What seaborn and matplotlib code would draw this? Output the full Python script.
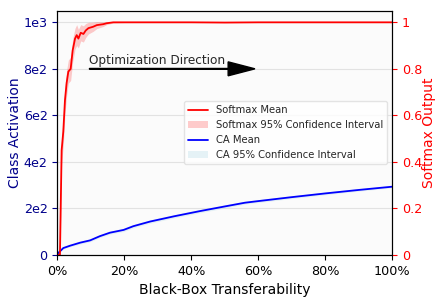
import numpy as np
import pandas as pd
import matplotlib
matplotlib.use("Agg")
import matplotlib.pyplot as plt
import seaborn as sns

# Black-box transferability (%) for the softmax curve
sm_x = [0, 0.8, 1.3, 1.8, 2.3, 2.8, 3.3, 4.0, 4.6, 5.3, 5.8, 6.3, 7.0, 7.8, 8.5, 9.3,
        10.7, 11.8, 13.7, 14.7, 16.7, 20, 30, 40, 50, 60, 70, 80, 90, 100]
sm_mean = [0.0, 0.0, 0.45, 0.53, 0.666, 0.74, 0.788, 0.80, 0.88, 0.93, 0.945, 0.93,
           0.955, 0.95, 0.965, 0.975, 0.981, 0.988, 0.992, 0.996, 1.0, 1.0, 1.0,
           1.0, 0.999, 1.0, 1.0, 1.0, 1.0, 1.0]
sm_half = [0.0, 0.0, 0.06, 0.06, 0.06, 0.055, 0.05, 0.05, 0.05, 0.045, 0.045, 0.04,
           0.035, 0.035, 0.03, 0.025, 0.02, 0.015, 0.01, 0.006, 0.003, 0.001, 0.0,
           0.0, 0.0, 0.0, 0.0, 0.0, 0.0, 0.0]

# class activation curve
ca_x = [0, 0.3, 1.8, 3.8, 6.8, 9.8, 12.7, 15.7, 19.8, 22.7, 27.7, 35, 42.6, 50,
        56, 60, 70, 80, 90, 100]
ca_mean = [0, 8, 29, 39, 52, 62, 80, 95, 107, 123, 143, 166, 188, 208,
           224, 231, 248, 264, 279, 293]
ca_half = [0, 2, 4, 5, 6, 6, 6, 6, 7, 7, 7, 7, 7, 7, 6, 6, 6, 6, 5, 5]

left_ticks = [0, 200, 400, 600, 800, 1000]
left_labels = ["0", "2e2", "4e2", "6e2", "8e2", "1e3"]
right_ticks = [0, 0.2, 0.4, 0.6, 0.8, 1.0]
right_labels = ["0", "0.2", "0.4", "0.6", "0.8", "1"]
x_ticks = [0, 20, 40, 60, 80, 100]
x_labels = ["0%", "20%", "40%", "60%", "80%", "100%"]

sm = pd.DataFrame({"x": sm_x, "mean": sm_mean, "half": sm_half})
ca = pd.DataFrame({"x": ca_x, "mean": ca_mean, "half": ca_half})

sns.set_style("ticks")
plt.rcParams["font.family"] = ["DejaVu Sans"]

fig = plt.figure(figsize=(4.44, 3.0), dpi=100)
ax = fig.add_axes([0.129, 0.1507, 0.7546, 0.8136])
ax.set_facecolor("#fbfbfb")
ax2 = ax.twinx()

# class activation on the left axis
sns.lineplot(data=ca, x="x", y="mean", ax=ax, color="blue", linewidth=1.3, label="CA Mean", legend=False)
ax.fill_between(ca["x"], ca["mean"] - ca["half"], ca["mean"] + ca["half"],
                color="lightblue", alpha=0.3, linewidth=0, label="CA 95% Confidence Interval")

# softmax on the right axis
sns.lineplot(data=sm, x="x", y="mean", ax=ax2, color="red", linewidth=1.3, label="Softmax Mean", legend=False)
ax2.fill_between(sm["x"], sm["mean"] - sm["half"], sm["mean"] + sm["half"],
                 color="red", alpha=0.2, linewidth=0, label="Softmax 95% Confidence Interval")

ax.set_xlim(0, 100)
ax.set_ylim(0, 1050)
ax2.set_ylim(0, 1.05)
ax.set_xticks(x_ticks)
ax.set_xticklabels(x_labels)
ax.set_yticks(left_ticks)
ax.set_yticklabels(left_labels)
ax2.set_yticks(right_ticks)
ax2.set_yticklabels(right_labels)
ax.grid(axis="y", color="#e2e2e2", linewidth=0.8)
ax.set_axisbelow(True)

ax.tick_params(axis="x", labelsize=9.2, colors="black")
ax.tick_params(axis="y", labelsize=9.2, colors="darkblue")
ax2.tick_params(axis="y", labelsize=9.2, colors="red")
ax.set_xlabel("Black-Box Transferability", fontsize=10, color="black")
ax.set_ylabel("Class Activation", fontsize=10, color="darkblue", labelpad=1)
ax2.set_ylabel("Softmax Output", fontsize=10, color="red", labelpad=0)
for a in (ax, ax2):
    for s in a.spines.values():
        s.set_visible(True)
        s.set_color("black")

# optimization direction arrow
ax.arrow(9.6, 800, 49.4, 0, width=3, head_width=60, head_length=8,
         length_includes_head=True, color="black", zorder=5)
ax.text(9.6, 808, "Optimization Direction", fontsize=8.7, ha="left", va="bottom", zorder=5)

h1, l1 = ax.get_legend_handles_labels()
h2, l2 = ax2.get_legend_handles_labels()
handles = h2 + h1
labels = l2 + l1
ax2.legend(handles, labels, loc="center right", fontsize=7.2, frameon=True,
           edgecolor="#dddddd", framealpha=0.8, fancybox=True)

plt.savefig("out.png", dpi=100)
